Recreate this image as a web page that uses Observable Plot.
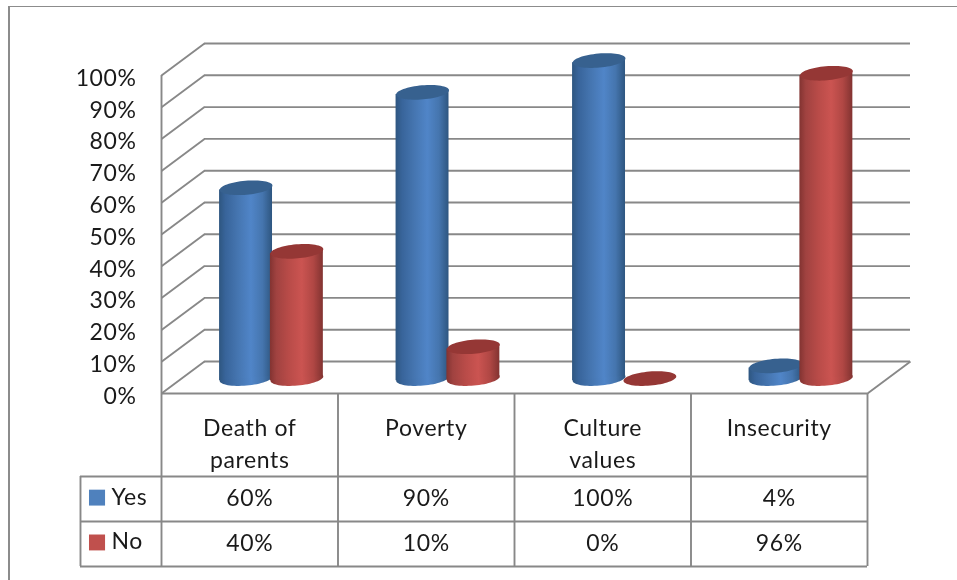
<!DOCTYPE html>
<html>
<head>
<meta charset="utf-8">
<script src="https://cdn.jsdelivr.net/npm/d3@7"></script>
<script src="https://cdn.jsdelivr.net/npm/@observablehq/plot@0.6"></script>
<style>
  html, body { margin: 0; padding: 0; background: #fff; overflow: hidden; }
  #wrap { position: relative; width: 957px; height: 580px; }
  #frame { position: absolute; left: 8px; top: 6px; right: 0; bottom: 0;
           border-left: 2px solid #8c8c8c; border-top: 1.5px solid #8c8c8c; }
  #wrap svg { position: absolute; left: 0; top: 0; filter: blur(0.45px); }
  #wrap svg text { letter-spacing: 0.6px; }
</style>
</head>
<body>
<div id="wrap"><div id="frame"></div><div id="chart"></div></div>
<script>
const categories = ["Death of\nparents", "Poverty", "Culture\nvalues", "Insecurity"];
const seriesNames = ["Yes", "No"];
const yesValues = [0.60, 0.90, 1.00, 0.04];
const noValues = [0.40, 0.10, 0.00, 0.96];
const yTicks = [0, 0.1, 0.2, 0.3, 0.4, 0.5, 0.6, 0.7, 0.8, 0.9, 1];

const wallDX = 0.2436, wallDY = 0.1006;
const barDY = 0.047, barTilt = 0.007;
const barOffset = {Yes: 0.479, No: 0.767};
const barHalf = 0.150;
const rowLines = [-0.261, -0.4025, -0.544];
const rowCenters = [-0.332, -0.473];
const tableLeft = -0.459;
const legendTextX = -0.283, swatchX1 = -0.408, swatchX2 = -0.317;
const colours = {Yes: "#4F81BD", No: "#C0504D"};
const tops = {Yes: "#37618F", No: "#953735"};
const gridColour = "#888888";
const font = "Lato, 'Open Sans', sans-serif";

const bars = seriesNames.flatMap((s, k) =>
  (k === 0 ? yesValues : noValues).map((v, i) => ({series: s, i, value: v, cx: i + barOffset[s]})));
const bodyPts = bars.filter(d => d.value > 0).flatMap(d => [
  {key: d.series + d.i, series: d.series, x: d.cx - barHalf, y1: barDY - barTilt, y2: d.value + barDY - barTilt},
  {key: d.series + d.i, series: d.series, x: d.cx + barHalf, y1: barDY + barTilt, y2: d.value + barDY + barTilt}
]);
const cells = seriesNames.flatMap((s, k) =>
  (k === 0 ? yesValues : noValues).map((v, i) => ({i, row: k, label: Math.round(v * 100) + "%"})));

const disc = {
  draw(ctx, size) {
    const r = Math.sqrt(size / Math.PI), b = r * 0.265, t = -5 * Math.PI / 180;
    for (let k = 0; k < 64; k++) {
      const a = k / 64 * 2 * Math.PI;
      const ex = r * Math.cos(a), ey = b * Math.sin(a);
      const px = ex * Math.cos(t) - ey * Math.sin(t), py = ex * Math.sin(t) + ey * Math.cos(t);
      k ? ctx.lineTo(px, py) : ctx.moveTo(px, py);
    }
    ctx.closePath();
  }
};

function gradient(defs, id, stops) {
  const g = defs.append("linearGradient").attr("id", id).attr("x1", 0).attr("x2", 1).attr("y1", 0).attr("y2", 0);
  stops.forEach(([o, c]) => g.append("stop").attr("offset", o).attr("stop-color", c));
}
const defsMark = () => {
  const defs = d3.create("svg:defs");
  gradient(defs, "gYes", [[0, "#2E5680"], [0.12, "#38649A"], [0.35, "#4575B0"], [0.6, "#5085C8"], [0.82, "#4575AE"], [1, "#2E5680"]]);
  gradient(defs, "gNo", [[0, "#823331"], [0.12, "#A04240"], [0.35, "#B84B48"], [0.6, "#CB5451"], [0.82, "#B04744"], [1, "#823331"]]);
  return defs.node();
};

const lineOpts = {stroke: gridColour, strokeWidth: 1.9};
const textOpts = {fontFamily: font, fontSize: 23, fill: "#1a1a1a"};
const series = s => d => d.series === s;

const marks = [
  defsMark,
  Plot.ruleY(yTicks, {y: d => d + wallDY, x1: wallDX, x2: 4 + wallDX, ...lineOpts}),
  Plot.link(yTicks, {x1: 0, y1: d => d, x2: wallDX, y2: d => d + wallDY, ...lineOpts}),
  Plot.link([0], {x1: 4, y1: 0, x2: 4 + wallDX, y2: wallDY, ...lineOpts}),
  Plot.ruleX([0], {y1: rowLines[0], y2: 1, ...lineOpts}),
  Plot.ruleY([0], {x1: 0, x2: 4, ...lineOpts}),
  Plot.ruleX([1, 2, 3, 4], {y1: rowLines[2], y2: 0, ...lineOpts}),
  Plot.ruleX([0], {y1: rowLines[2], y2: rowLines[0], ...lineOpts}),
  Plot.ruleX([tableLeft], {y1: rowLines[2], y2: rowLines[0], ...lineOpts}),
  Plot.ruleY(rowLines, {x1: tableLeft, x2: 4, ...lineOpts})
];
for (const s of seriesNames) {
  const sel = bars.filter(series(s));
  marks.push(
    Plot.dot(sel.filter(d => d.value > 0), {x: "cx", y: () => barDY, r: 26.5, symbol: disc, fill: `url(#g${s})`, stroke: "none"}),
    Plot.areaY(bodyPts.filter(series(s)), {x: "x", y1: "y1", y2: "y2", z: "key", fill: `url(#g${s})`, curve: "linear"}),
    Plot.dot(sel, {x: "cx", y: d => d.value + barDY, r: 26.5, symbol: disc, fill: tops[s], stroke: "none"})
  );
}
marks.push(
  Plot.axisY({ticks: yTicks, tickFormat: d3.format(".0%"), tickSize: 0, tickPadding: 25, dy: 3, label: null, fontFamily: font, fontSize: 23, fill: "#1a1a1a"}),
  Plot.text(categories, {x: (d, i) => i + 0.5, y: () => -0.062, text: d => d, lineAnchor: "top", lineHeight: 1.39, ...textOpts}),
  Plot.text(cells, {x: d => d.i + 0.5, y: d => rowCenters[d.row], text: "label", lineAnchor: "middle", ...textOpts}),
  Plot.text(seriesNames, {x: () => legendTextX, y: (d, i) => rowCenters[i] + 0.006, text: d => d, textAnchor: "start", lineAnchor: "middle", ...textOpts}),
  Plot.rect(seriesNames, {x1: () => swatchX1, x2: () => swatchX2, y1: (d, i) => rowCenters[i] + 0.028, y2: (d, i) => rowCenters[i] - 0.022, fill: d => colours[d]})
);

const chart = Plot.plot({
  width: 957, height: 580,
  marginLeft: 161, marginRight: 90, marginTop: 75, marginBottom: 187,
  x: {type: "linear", domain: [0, 4], axis: null},
  y: {domain: [0, 1], axis: null},
  color: {type: "identity"},
  style: {background: "transparent", overflow: "visible"},
  marks
});
document.getElementById("chart").appendChild(chart);
</script>
</body>
</html>
